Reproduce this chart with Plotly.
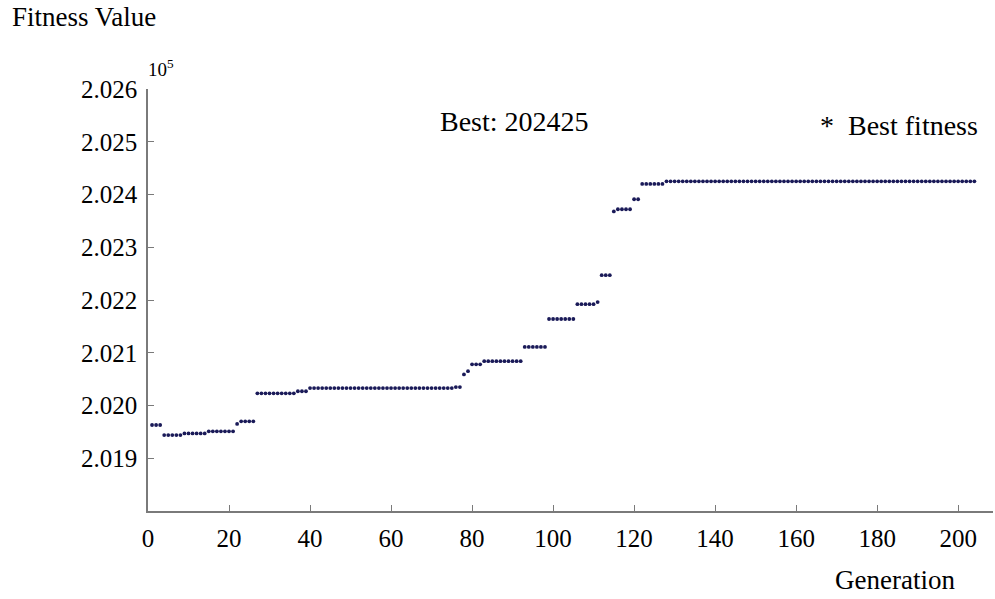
import plotly.graph_objects as go

generations = list(range(1, 205))
best_fitness = [
    201963, 201963, 201963,
    201944, 201944, 201944, 201944, 201944,
    201947, 201947, 201947, 201947, 201947, 201947,
    201951, 201951, 201951, 201951, 201951, 201951, 201951,
    201965,
    201970, 201970, 201970, 201970,
    202023, 202023, 202023, 202023, 202023, 202023, 202023, 202023, 202023, 202023,
    202027, 202027, 202027,
    202033, 202033, 202033, 202033, 202033, 202033, 202033, 202033, 202033, 202033,
    202033, 202033, 202033, 202033, 202033, 202033, 202033, 202033, 202033, 202033,
    202033, 202033, 202033, 202033, 202033, 202033, 202033, 202033, 202033, 202033,
    202033, 202033, 202033, 202033, 202033, 202033,
    202035, 202035,
    202059,
    202065,
    202078, 202078, 202078,
    202084, 202084, 202084, 202084, 202084, 202084, 202084, 202084, 202084, 202084,
    202111, 202111, 202111, 202111, 202111, 202111,
    202164, 202164, 202164, 202164, 202164, 202164, 202164,
    202192, 202192, 202192, 202192, 202192,
    202196,
    202247, 202247, 202247,
    202368,
    202372, 202372, 202372, 202372,
    202391, 202391,
    202420, 202420, 202420, 202420, 202420, 202420,
    202425, 202425, 202425, 202425, 202425, 202425, 202425, 202425, 202425, 202425,
    202425, 202425, 202425, 202425, 202425, 202425, 202425, 202425, 202425, 202425,
    202425, 202425, 202425, 202425, 202425, 202425, 202425, 202425, 202425, 202425,
    202425, 202425, 202425, 202425, 202425, 202425, 202425, 202425, 202425, 202425,
    202425, 202425, 202425, 202425, 202425, 202425, 202425, 202425, 202425, 202425,
    202425, 202425, 202425, 202425, 202425, 202425, 202425, 202425, 202425, 202425,
    202425, 202425, 202425, 202425, 202425, 202425, 202425, 202425, 202425, 202425,
    202425, 202425, 202425, 202425, 202425, 202425, 202425,
]

y_tick_vals = [201900, 202000, 202100, 202200, 202300, 202400, 202500, 202600]
y_tick_text = ["2.019", "2.020", "2.021", "2.022", "2.023", "2.024", "2.025", "2.026"]
x_tick_vals = [0, 20, 40, 60, 80, 100, 120, 140, 160, 180, 200]

FONT = "Liberation Serif"

W, H = 995, 599
L, R, T, B = 148, 2, 89, 88
pw, ph = W - L - R, H - T - B


def px(xp):
    return (xp - L) / pw


def py(yp):
    return (H - B - yp) / ph


fig = go.Figure()
fig.add_trace(go.Scatter(
    x=generations, y=best_fitness, mode="markers",
    marker=dict(symbol="circle", size=3.8, color="#1a1a58"),
    name="Best fitness", showlegend=False,
))

axis_common = dict(
    ticks="inside", ticklen=6, tickcolor="#7a7a7a", showline=True,
    linecolor="#7a7a7a", linewidth=1.5, showgrid=False, zeroline=False,
    tickfont=dict(size=25, family=FONT, color="black"), ticklabelstandoff=4,
)

fig.update_layout(
    width=W, height=H,
    margin=dict(l=L, r=R, t=T, b=B),
    paper_bgcolor="white", plot_bgcolor="white",
    font=dict(family=FONT, color="black", size=25),
    xaxis=dict(range=[0, 208.6], tickvals=x_tick_vals, **axis_common),
    yaxis=dict(range=[201800, 202600], tickvals=y_tick_vals,
               ticktext=y_tick_text, **axis_common),
    annotations=[
        dict(text="Fitness Value", x=px(10), y=py(17), xanchor="left", yanchor="middle",
             xref="paper", yref="paper", showarrow=False,
             font=dict(size=27, family=FONT)),
        dict(text="10<sup>5</sup>", x=px(146), y=py(68), xanchor="left", yanchor="middle",
             xref="paper", yref="paper", showarrow=False,
             font=dict(size=19, family=FONT)),
        dict(text="Best: 202425", x=px(438), y=py(122), xanchor="left", yanchor="middle",
             xref="paper", yref="paper", showarrow=False,
             font=dict(size=28, family=FONT)),
        dict(text="*  Best fitness", x=px(818), y=py(126), xanchor="left", yanchor="middle",
             xref="paper", yref="paper", showarrow=False,
             font=dict(size=28, family=FONT)),
        dict(text="Generation", x=px(833), y=py(580), xanchor="left", yanchor="middle",
             xref="paper", yref="paper", showarrow=False,
             font=dict(size=27, family=FONT)),
    ],
)

fig.write_html("out.html", config={"displayModeBar": False},
               post_script="document.body.style.margin='0';")
